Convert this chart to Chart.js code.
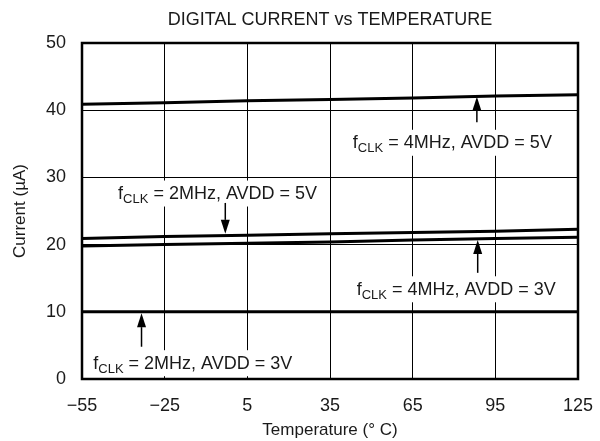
<!DOCTYPE html>
<html>
<head>
<meta charset="utf-8">
<script src="https://cdn.jsdelivr.net/npm/chart.js@4"></script>
<style>
  html, body { margin: 0; padding: 0; background: #fff; }
  #wrap { width: 600px; height: 441px; }
</style>
</head>
<body>
<div id="wrap"><canvas id="c" width="600" height="441"></canvas></div>
<script>
// ---- data ----
const temperatures = [-55, -25, 5, 35, 65, 95, 125];
const xTickValues = [-55, -25, 5, 35, 65, 95, 125];
const yTickValues = [0, 10, 20, 30, 40, 50];
const current4MHz5V = [40.9, 41.1, 41.4, 41.6, 41.8, 42.1, 42.3];
const current2MHz5V = [20.9, 21.2, 21.4, 21.6, 21.8, 22.0, 22.3];
const current4MHz3V = [19.8, 20.0, 20.2, 20.4, 20.7, 20.9, 21.1];
const current2MHz3V = [10.0, 10.0, 10.0, 10.0, 10.0, 10.0, 10.0];
const seriesLabels = ['4MHz, AVDD = 5V', '2MHz, AVDD = 5V', '4MHz, AVDD = 3V', '2MHz, AVDD = 3V'];
const chartTitle = 'DIGITAL CURRENT vs TEMPERATURE';

// annotation placement (data coordinates)
const annotations = [
  { text: seriesLabels[0], tx: 43.3, ty: 35.3, ax: 88.3, from: 38.2, to: 42.0 },
  { text: seriesLabels[1], tx: -41.9, ty: 27.75, ax: -3, from: 26.2, to: 21.6 },
  { text: seriesLabels[2], tx: 44.7, ty: 13.5, ax: 88.6, from: 15.8, to: 20.7 },
  { text: seriesLabels[3], tx: -50.9, ty: 2.5, ax: -33.4, from: 4.8, to: 9.8 }
];

const FONT = "'Liberation Sans', Arial, sans-serif";
const TXT = '#1a1a1a';

function fmtMinus(v) { return v < 0 ? '\u2212' + Math.abs(v) : String(v); }

const toPts = arr => temperatures.map((t, i) => ({ x: t, y: arr[i] }));

const annotationPlugin = {
  id: 'annot',
  afterDatasetsDraw(chart) {
    const ctx = chart.ctx;
    const xs = chart.scales.x, ys = chart.scales.y;
    const mainSize = 18, subSize = 13;
    ctx.save();
    annotations.forEach(a => {
      const x0 = xs.getPixelForValue(a.tx);
      const yc = ys.getPixelForValue(a.ty);
      ctx.font = mainSize + 'px ' + FONT;
      const wF = ctx.measureText('f').width;
      const rest = ' = ' + a.text;
      const wR = ctx.measureText(rest).width;
      ctx.font = subSize + 'px ' + FONT;
      const wS = ctx.measureText('CLK').width;
      const total = wF + wS + wR;
      // white background
      ctx.fillStyle = '#fff';
      ctx.fillRect(x0 - 3, yc - 12, total + 6, 26);
      // text
      ctx.fillStyle = TXT;
      ctx.textBaseline = 'alphabetic';
      ctx.textAlign = 'left';
      const base = yc + 6.5;
      ctx.font = mainSize + 'px ' + FONT;
      ctx.fillText('f', x0, base);
      ctx.font = subSize + 'px ' + FONT;
      ctx.fillText('CLK', x0 + wF, base + 4);
      ctx.font = mainSize + 'px ' + FONT;
      ctx.fillText(rest, x0 + wF + wS, base);
      // arrow
      const ax = xs.getPixelForValue(a.ax);
      const y1 = ys.getPixelForValue(a.from);
      const y2 = ys.getPixelForValue(a.to);
      const dir = y2 < y1 ? -1 : 1;
      const headLen = 14, headHalf = 4.5;
      ctx.strokeStyle = '#000';
      ctx.lineWidth = 1.5;
      ctx.beginPath();
      ctx.moveTo(ax, y1);
      ctx.lineTo(ax, y2 - dir * headLen);
      ctx.stroke();
      ctx.fillStyle = '#000';
      ctx.beginPath();
      ctx.moveTo(ax, y2);
      ctx.lineTo(ax - headHalf, y2 - dir * headLen);
      ctx.lineTo(ax + headHalf, y2 - dir * headLen);
      ctx.closePath();
      ctx.fill();
    });
    ctx.restore();
  },
  afterDraw(chart) {
    const { ctx, chartArea: ca } = chart;
    ctx.save();
    ctx.strokeStyle = '#000';
    ctx.lineWidth = 2.5;
    ctx.strokeRect(ca.left, ca.top, ca.right - ca.left, ca.bottom - ca.top);
    // title centred over the plot area
    ctx.fillStyle = TXT;
    ctx.font = '18px ' + FONT;
    ctx.textAlign = 'center';
    ctx.textBaseline = 'middle';
    ctx.fillText(chartTitle, (ca.left + ca.right) / 2, 20);
    ctx.restore();
  }
};

const lineStyle = { borderColor: '#000', borderWidth: 3, pointRadius: 0, tension: 0, fill: false };

new Chart(document.getElementById('c'), {
  type: 'line',
  data: {
    datasets: [
      { label: seriesLabels[0], data: toPts(current4MHz5V), ...lineStyle },
      { label: seriesLabels[1], data: toPts(current2MHz5V), ...lineStyle },
      { label: seriesLabels[2], data: toPts(current4MHz3V), ...lineStyle },
      { label: seriesLabels[3], data: toPts(current2MHz3V), ...lineStyle }
    ]
  },
  options: {
    responsive: false,
    animation: false,
    devicePixelRatio: 1,
    layout: { padding: { left: 0, right: 22, top: 43, bottom: 0 } },
    plugins: {
      legend: { display: false },
      tooltip: { enabled: false },
      title: { display: false }
    },
    scales: {
      x: {
        type: 'linear',
        min: -55, max: 125,
        afterBuildTicks(s) { s.ticks = xTickValues.map(v => ({ value: v })); },
        afterFit(s) { s.height = 62; s.paddingLeft = 0; s.paddingRight = 0; },
        grid: { color: '#000', lineWidth: 1, drawTicks: false },
        border: { display: false },
        ticks: {
          color: TXT, padding: 16,
          font: { family: FONT, size: 18 },
          callback: v => fmtMinus(v),
          maxRotation: 0, autoSkip: false
        },
        title: {
          display: true, text: 'Temperature (\u00B0 C)', color: TXT,
          font: { family: FONT, size: 17 },
          padding: { top: 0, bottom: 0 }
        }
      },
      y: {
        min: 0, max: 50,
        afterBuildTicks(s) { s.ticks = yTickValues.map(v => ({ value: v })); },
        afterFit(s) { s.width = 82; s.paddingTop = 0; s.paddingBottom = 0; },
        grid: { color: '#000', lineWidth: 1, drawTicks: false },
        border: { display: false },
        ticks: {
          color: TXT, padding: 16,
          font: { family: FONT, size: 18 },
          callback: v => fmtMinus(v)
        },
        title: {
          display: true, text: 'Current (\u00B5A)', color: TXT,
          font: { family: FONT, size: 17 },
          padding: { top: 10, bottom: 0 }
        }
      }
    }
  },
  plugins: [annotationPlugin]
});
</script>
</body>
</html>
